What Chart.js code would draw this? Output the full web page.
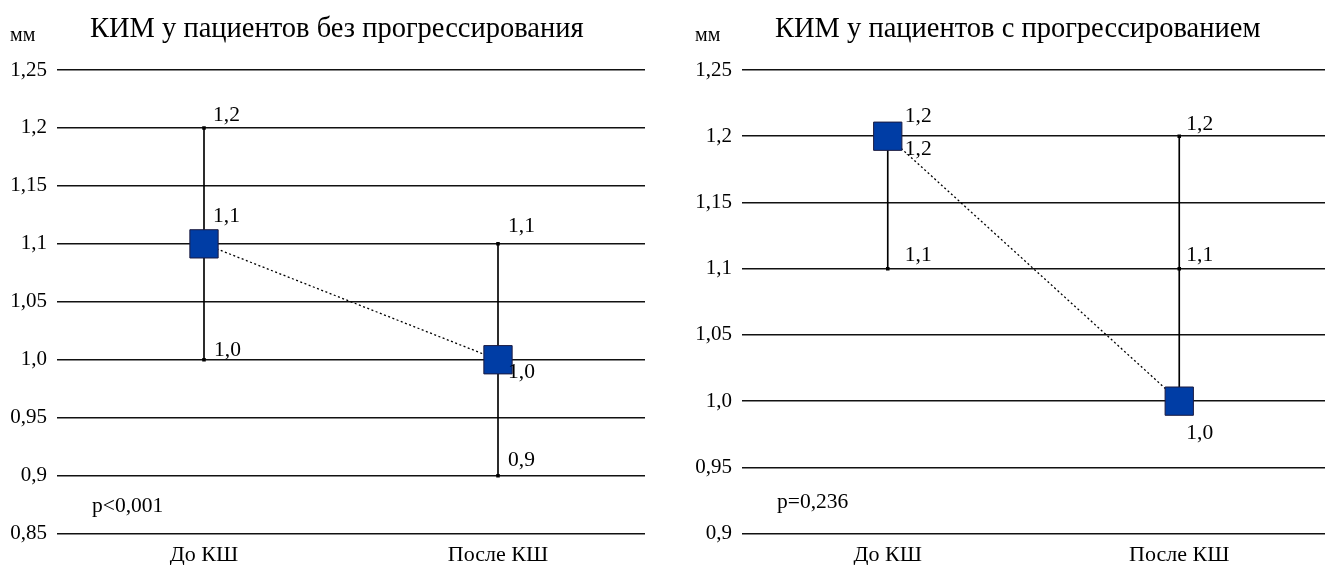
<!DOCTYPE html>
<html>
<head>
<meta charset="utf-8">
<script src="https://cdn.jsdelivr.net/npm/chart.js@4/dist/chart.umd.min.js"></script>
<style>
  body { margin: 0; background: #fff; }
  .panel { position: absolute; top: 0; }
</style>
</head>
<body>
<div class="panel" style="left:0"><canvas id="leftChart" width="650" height="565"></canvas></div>
<div class="panel" style="left:662px"><canvas id="rightChart" width="663" height="565"></canvas></div>
<script>
const categories = ['До КШ', 'После КШ'];

// patients without progression
const leftMean = [1.1, 1.0];
const leftMax = [1.2, 1.1];
const leftMin = [1.0, 0.9];
const leftTicks = ['0,85', '0,9', '0,95', '1,0', '1,05', '1,1', '1,15', '1,2', '1,25'];
const leftTitle = 'КИМ у пациентов без прогрессирования';
const leftP = 'p<0,001';

// patients with progression
const rightMean = [1.2, 1.0];
const rightMax = [1.2, 1.2];
const rightMin = [1.1, 1.1];
const rightTicks = ['0,9', '0,95', '1,0', '1,05', '1,1', '1,15', '1,2', '1,25'];
const rightTitle = 'КИМ у пациентов с прогрессированием';
const rightP = 'p=0,236';

const unitLabel = 'мм';

const FONT = "'Liberation Serif', 'Times New Roman', serif";

// label offsets (dx, dy) for each point, per series
const leftLabelPos = {
  max: [[9, -13], [10, -17]],
  min: [[10, -9], [10, -15]],
  mean: [[9, -27], [10, 13]]
};
const rightLabelPos = {
  max: [[17, -20], [7, -12]],
  min: [[17, -13], [7, -13]],
  mean: [[17, 13], [7, 32]]
};

const fmt = v => v.toFixed(1).replace('.', ',');

const pointLabels = {
  id: 'pointLabels',
  afterDatasetsDraw(chart) {
    const ctx = chart.ctx;
    ctx.save();
    ctx.font = '21.5px ' + FONT;
    ctx.fillStyle = '#000';
    ctx.textAlign = 'left';
    ctx.textBaseline = 'middle';
    chart.data.datasets.forEach((ds, di) => {
      if (!ds.labelPos) return;
      const meta = chart.getDatasetMeta(di);
      meta.data.forEach((pt, i) => {
        const off = ds.labelPos[i];
        ctx.fillText(fmt(ds.data[i]), pt.x + off[0], pt.y + off[1]);
      });
    });
    ctx.restore();
  }
};

const panelText = {
  id: 'panelText',
  afterDraw(chart, args, opts) {
    const ctx = chart.ctx;
    const area = chart.chartArea;
    const y = chart.scales.y;
    ctx.save();
    ctx.fillStyle = '#000';
    ctx.textBaseline = 'alphabetic';
    ctx.textAlign = 'left';
    ctx.font = '20px ' + FONT;
    ctx.fillText(unitLabel, opts.unitX, 41);
    ctx.font = '28.5px ' + FONT;
    ctx.fillText(opts.title, area.left + 33, 37);
    ctx.font = '21.5px ' + FONT;
    ctx.textBaseline = 'middle';
    const mid = (y.min + opts.step / 2);
    ctx.fillText(opts.pText, area.left + 35, y.getPixelForValue(mid) + 2);
    ctx.restore();
  }
};

function makeChart(id, mean, max, min, ticks, yMin, title, pText, labelPos, axisWidth, unitX, padRight) {
  const lows = categories.map((c, i) => Math.min(mean[i], max[i], min[i]));
  const highs = categories.map((c, i) => Math.max(mean[i], max[i], min[i]));
  return new Chart(document.getElementById(id), {
    type: 'line',
    data: {
      labels: categories,
      datasets: [
        {
          type: 'line',
          label: 'mean',
          data: mean,
          order: 0,
          borderColor: '#000',
          borderWidth: 1.3,
          borderDash: [2, 2.5],
          pointStyle: 'rect',
          pointRadius: 20,
          pointBackgroundColor: '#003DA5',
          pointBorderColor: '#1b1b40',
          pointBorderWidth: 1,
          labelPos: labelPos.mean
        },
        {
          type: 'line',
          label: 'max',
          data: max,
          order: 1,
          showLine: false,
          pointStyle: 'rect',
          pointRadius: 2.5,
          pointBackgroundColor: '#000',
          pointBorderColor: '#000',
          pointBorderWidth: 0,
          labelPos: labelPos.max
        },
        {
          type: 'line',
          label: 'min',
          data: min,
          order: 1,
          showLine: false,
          pointStyle: 'rect',
          pointRadius: 2.5,
          pointBackgroundColor: '#000',
          pointBorderColor: '#000',
          pointBorderWidth: 0,
          labelPos: labelPos.min
        },
        {
          type: 'bar',
          label: 'range',
          data: categories.map((c, i) => [lows[i], highs[i]]),
          order: 2,
          backgroundColor: '#000',
          barThickness: 1,
          borderWidth: 0
        }
      ]
    },
    options: {
      responsive: false,
      devicePixelRatio: 1,
      animation: false,
      layout: { autoPadding: false, padding: { top: 70, right: padRight, left: 0, bottom: -11 } },
      plugins: {
        legend: { display: false },
        tooltip: { enabled: false },
        panelText: { title: title, pText: pText, step: 0.05, unitX: unitX }
      },
      scales: {
        x: {
          type: 'category',
          offset: true,
          grid: { display: false, drawTicks: false },
          border: { display: false },
          ticks: { color: '#000', font: { family: FONT, size: 22 }, padding: 8, maxRotation: 0 }
        },
        y: {
          min: yMin,
          max: 1.25,
          afterFit: s => { s.width = axisWidth; },
          grid: { color: '#111', lineWidth: 1.5, drawTicks: false },
          border: { display: false },
          ticks: {
            stepSize: 0.05,
            color: '#000',
            padding: 10,
            font: { family: FONT, size: 21 },
            callback: (v, i) => ticks[i]
          }
        }
      }
    },
    plugins: [pointLabels, panelText]
  });
}

makeChart('leftChart', leftMean, leftMax, leftMin, leftTicks, 0.85, leftTitle, leftP, leftLabelPos, 57, 10, 5);
makeChart('rightChart', rightMean, rightMax, rightMin, rightTicks, 0.9, rightTitle, rightP, rightLabelPos, 80, 33, 0);
</script>
</body>
</html>
